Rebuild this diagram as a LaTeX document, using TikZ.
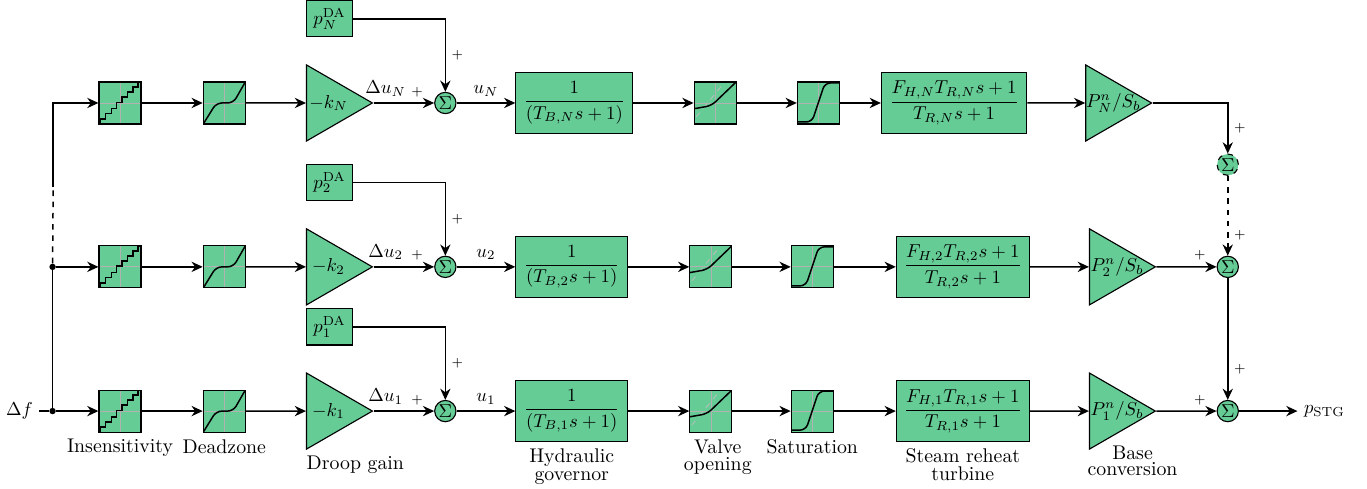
\documentclass[tikz,border=0pt]{standalone}
\usepackage{amsmath}
\usepackage{amssymb}
\usepackage{tikz}
\usetikzlibrary{arrows.meta, positioning, shapes.geometric}
\definecolor{blockgreen}{RGB}{102,204,150}
\newcommand{\gaintext}[1]{\makebox[0pt]{$#1$}}
\newcommand{\blockgrid}{
    \draw[gray!60, thin] (path picture bounding box.north) -- (path picture bounding box.south);
    \draw[gray!60, thin] (path picture bounding box.west) -- (path picture bounding box.east);
}
\tikzset{
    transferbox/.style={
        rectangle,
        draw=black,
        fill=blockgreen,
        semithick,
        inner sep=0pt,
        minimum height=1.147cm
    },
    inputbox/.style={
        rectangle,
        draw=black,
        fill=blockgreen,
        semithick,
        inner sep=0pt,
        minimum width=0.865cm,
        minimum height=0.68cm
    },
    squarebox/.style={
        rectangle,
        draw=black,
        fill=blockgreen,
        semithick,
        inner sep=0pt,
        minimum size=0.79cm
    },
    stairbox/.style={
        squarebox,
        path picture={
            \blockgrid
            \draw[curveline] (-19.3,-21) |- (-14.3,-16) |- (-8.7,-10.7) |- (-3.7,-5.7) |- (2,0.7)
                |- (7.3,6) |- (13,11) |- (18,16) |- (21,20.7);
        }
    },
    deadbox/.style={
        squarebox,
        path picture={
            \blockgrid
            \draw[curveline, rounded corners=3pt] (-21,-21) -- (-8,0) -- (9,0) -- (21,21);
        }
    },
    valvebox/.style={
        squarebox,
        path picture={
            \blockgrid
            \draw[gray!50, thin, dashed, curvescale] (-19,-14) -- (8,19);
            \draw[curveline, rounded corners=3pt] (-21,-5.7) -- (-3.7,-2.7) -- (21,21);
        }
    },
    satbox/.style={
        squarebox,
        path picture={
            \blockgrid
            \draw[curveline, rounded corners=3pt] (-21,-19) -- (-6.5,-19) -- (6.5,20) -- (21,20);
        }
    },
    curvescale/.style={
        shift={(path picture bounding box.center)},
        x=0.0188cm,
        y=0.0188cm
    },
    curveline/.style={
        curvescale,
        draw=black,
        thick
    },
    gaintriangle/.style={
        regular polygon,
        regular polygon sides=3,
        shape border rotate=-90,
        draw=black,
        fill=blockgreen,
        semithick,
        inner sep=0pt,
        minimum size=1.65cm
    },
    sumcircle/.style={
        circle,
        draw=black,
        fill=blockgreen,
        semithick,
        inner sep=0pt,
        minimum size=0.4cm
    },
    junctiondot/.style={
        circle,
        fill=black,
        inner sep=0pt,
        minimum size=0.12cm
    },
    signalarrow/.style={
        -{Stealth[length=6pt, width=5.5pt]},
        thick,
        draw=black
    },
    signalline/.style={
        thick,
        draw=black
    },
    signmark/.style={
        font=\scriptsize,
        inner sep=3pt
    },
    captionlabel/.style={
        align=center,
        font=\fontsize{10.6pt}{12pt}\selectfont
    }
}

\begin{document}
\begin{tikzpicture}[node distance=1.15cm]
    \useasboundingbox (-2.256,1.936) rectangle (23.444,-7.257);

    % row N
    \node[stairbox] (insN) {};
    \node[deadbox, right=of insN] (deadN) {};
    \node[gaintriangle, right=1.13cm of deadN] (gainN) {\gaintext{-k_N}};
    \node[sumcircle, right=1.14cm of gainN] (sumN) {$\Sigma$};
    \node[transferbox, minimum width=2.2cm, right=1.105cm of sumN] (govN) {$\dfrac{1}{(T_{B,N}s+1)}$};
    \node[squarebox, valvebox, right=1.13cm of govN] (valveN) {};
    \node[squarebox, satbox, right=1.13cm of valveN] (satN) {};
    \node[transferbox, minimum width=2.73cm, right=0.77cm of satN] (turbN) {$\dfrac{F_{H,N}T_{R,N}s+1}{T_{R,N}s+1}$};
    \node[gaintriangle, right=1.09cm of turbN] (baseN) {\gaintext{\hspace{6pt}P_N^n/S_b}};
    \node[inputbox, above right=0.5cm and 0cm of gainN.corner 2] (pN) {$p_N^{\mathrm{DA}}$};

    % row 2
    \node[stairbox, below=2.27cm of insN] (ins2) {};
    \node[deadbox, right=of ins2] (dead2) {};
    \node[gaintriangle, right=1.13cm of dead2] (gain2) {\gaintext{-k_2}};
    \node[sumcircle, right=1.14cm of gain2] (sum2) {$\Sigma$};
    \node[transferbox, minimum width=2.1cm, right=1.105cm of sum2] (gov2) {$\dfrac{1}{(T_{B,2}s+1)}$};
    \node[squarebox, valvebox, right=of gov2] (valve2) {};
    \node[squarebox, satbox, right=1.095cm of valve2] (sat2) {};
    \node[transferbox, minimum width=2.5cm, right=1.165cm of sat2] (turb2) {$\dfrac{F_{H,2}T_{R,2}s+1}{T_{R,2}s+1}$};
    \node[gaintriangle, right=1.11cm of turb2] (base2) {\gaintext{\hspace{6pt}P_2^n/S_b}};
    \node[sumcircle, right=1.13cm of base2] (sumout2) {$\Sigma$};
    \node[inputbox, above right=0.5cm and 0cm of gain2.corner 2] (p2) {$p_2^{\mathrm{DA}}$};

    % row 1
    \node[stairbox, below=1.9cm of ins2] (ins1) {};
    \node[deadbox, right=of ins1] (dead1) {};
    \node[gaintriangle, right=1.13cm of dead1] (gain1) {\gaintext{-k_1}};
    \node[sumcircle, right=1.14cm of gain1] (sum1) {$\Sigma$};
    \node[transferbox, minimum width=2.1cm, right=1.105cm of sum1] (gov1) {$\dfrac{1}{(T_{B,1}s+1)}$};
    \node[squarebox, valvebox, right=of gov1] (valve1) {};
    \node[squarebox, satbox, right=1.095cm of valve1] (sat1) {};
    \node[transferbox, minimum width=2.5cm, right=1.165cm of sat1] (turb1) {$\dfrac{F_{H,1}T_{R,1}s+1}{T_{R,1}s+1}$};
    \node[gaintriangle, right=1.11cm of turb1] (base1) {\gaintext{\hspace{6pt}P_1^n/S_b}};
    \node[sumcircle, right=1.13cm of base1] (sumout1) {$\Sigma$};
    \node[inputbox, above right=0.5cm and 0cm of gain1.corner 2] (p1) {$p_1^{\mathrm{DA}}$};

    \node[sumcircle, dashed, above=1.5cm of sumout2] (sumoutN) {$\Sigma$};
    \node[right=1.1cm of sumout1] (pstg) {$p_{\mathrm{STG}}$};

    % input side
    \node[junctiondot, left=0.795cm of ins1] (junc1) {};
    \node[junctiondot, left=0.795cm of ins2] (junc2) {};
    \coordinate[left=0.85cm of insN] (cornerN);
    \coordinate[below=1.58cm of cornerN] (dashtop);
    \node[left=0.18cm of junc1] (deltaf) {$\Delta f$};

    % captions
    \node[captionlabel, below=0pt of ins1] (insensitivity) {Insensitivity};
    \node[captionlabel, below=0pt of dead1] (deadzone) {Deadzone};
    \node[captionlabel, below right=-0.02cm and -0.11cm of gain1.corner 3] (droop) {Droop gain};
    \node[captionlabel, below=0pt of gov1] (governor) {Hydraulic\\[-2.5pt]governor};
    \node[captionlabel, below=0pt of valve1, xshift=0.13cm] (opening) {Valve\\[-2.5pt]opening};
    \node[captionlabel, below=0pt of sat1] (saturation) {Saturation};
    \node[captionlabel, below=0pt of turb1] (turbine) {Steam reheat\\[-2.5pt]turbine};
    \node[captionlabel, below right=-0.2cm and -0.15cm of base1.corner 3] (conversion) {Base\\[-3.5pt]conversion};

    % signals
    \draw[signalline] (deltaf) -- (junc1);
    \draw[signalline] (junc1) -- (junc2);
    \draw[signalline, dashed] (junc2) -- (dashtop);
    \draw[signalarrow] (dashtop) -- (cornerN) -- (insN);
    \draw[signalarrow] (junc2) -- (ins2);
    \draw[signalarrow] (junc1) -- (ins1);

    \draw[signalarrow] (insN) -- (deadN);
    \draw[signalarrow] (deadN) -- (gainN);
    \draw[signalarrow] (gainN) -- node[pos=0.2, above] (duN) {$\Delta u_N$} node[pos=0.72, above, signmark] (plusgainN) {$+$} (sumN);
    \draw[signalarrow] (sumN) -- node[above] (uN) {$u_N$} (govN);
    \draw[signalarrow] (govN) -- (valveN);
    \draw[signalarrow] (valveN) -- (satN);
    \draw[signalarrow] (satN) -- (turbN);
    \draw[signalarrow] (turbN) -- (baseN);
    \draw[signalarrow] (pN) -| node[pos=0.75, right, signmark] (pluspN) {$+$} (sumN);

    \draw[signalarrow] (ins2) -- (dead2);
    \draw[signalarrow] (dead2) -- (gain2);
    \draw[signalarrow] (gain2) -- node[pos=0.2, above] (du2) {$\Delta u_2$} node[pos=0.72, above, signmark] (plusgain2) {$+$} (sum2);
    \draw[signalarrow] (sum2) -- node[above] (u2) {$u_2$} (gov2);
    \draw[signalarrow] (gov2) -- (valve2);
    \draw[signalarrow] (valve2) -- (sat2);
    \draw[signalarrow] (sat2) -- (turb2);
    \draw[signalarrow] (turb2) -- (base2);
    \draw[signalarrow] (p2) -| node[pos=0.75, right, signmark] (plusp2) {$+$} (sum2);

    \draw[signalarrow] (ins1) -- (dead1);
    \draw[signalarrow] (dead1) -- (gain1);
    \draw[signalarrow] (gain1) -- node[pos=0.2, above] (du1) {$\Delta u_1$} node[pos=0.72, above, signmark] (plusgain1) {$+$} (sum1);
    \draw[signalarrow] (sum1) -- node[above] (u1) {$u_1$} (gov1);
    \draw[signalarrow] (gov1) -- (valve1);
    \draw[signalarrow] (valve1) -- (sat1);
    \draw[signalarrow] (sat1) -- (turb1);
    \draw[signalarrow] (turb1) -- (base1);
    \draw[signalarrow] (p1) -| node[pos=0.75, right, signmark] (plusp1) {$+$} (sum1);

    \draw[signalarrow] (baseN) -| node[pos=0.75, right, signmark] (plusbaseN) {$+$} (sumoutN);
    \draw[signalarrow, dashed] (sumoutN) -- node[pos=0.75, right, signmark] (plusoutN) {$+$} (sumout2);
    \draw[signalarrow] (base2) -- node[pos=0.72, above, signmark] (plusbase2) {$+$} (sumout2);
    \draw[signalarrow] (sumout2) -- node[pos=0.75, right, signmark] (plusout2) {$+$} (sumout1);
    \draw[signalarrow] (base1) -- node[pos=0.72, above, signmark] (plusbase1) {$+$} (sumout1);
    \draw[signalarrow] (sumout1) -- (pstg);
\end{tikzpicture}
\end{document}
